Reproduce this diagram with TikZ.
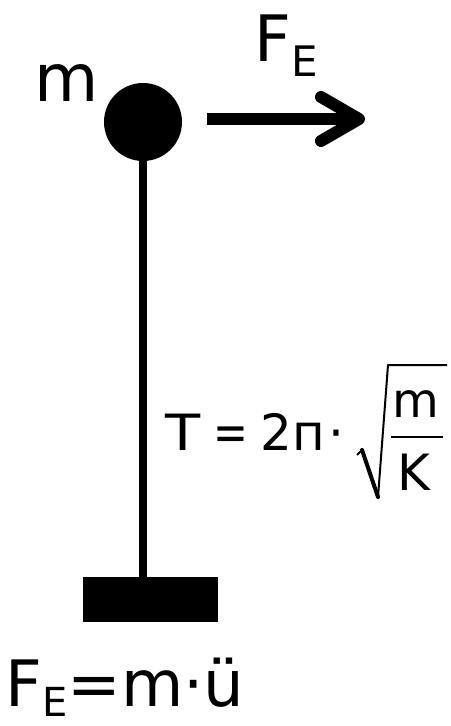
\documentclass[tikz,border=0pt]{standalone}
\usepackage{fontspec}
\setmainfont{DejaVu Sans}
\usetikzlibrary{arrows.meta}
\begin{document}
\begin{tikzpicture}[x=0.5pt,y=-0.5pt,
    lbl/.style={inner sep=0pt, anchor=base west},
    big/.style={font=\fontsize{32}{32}\selectfont},
    mid/.style={font=\fontsize{25}{25}\selectfont}]
  \useasboundingbox (0,0) rectangle (450,726);
  % Mass
  \node[circle, fill=black, minimum size=39pt, inner sep=0pt] (ball) at (143,122) {};
  \node[lbl, font=\fontsize{33}{33}\selectfont] (mlabel) at (34,102) {m};
  % Force
  \coordinate (fstart) at (207,119);
  \coordinate (ftip) at (365,119);
  \draw[line width=6pt, -{Straight Barb[round, length=19pt, width=22pt]}] (fstart) -- (ftip);
  \node[lbl, big] (flabel) at (254,62) {F\raisebox{-7.5pt}{\fontsize{21}{21}\selectfont E}};
  % Rod and base
  \node[rectangle, fill=black, minimum width=67.5pt, minimum height=22.5pt, inner sep=0pt] (base) at (150.5,599.5) {};
  \draw[line width=4pt] (ball.center) -- (ball.center |- base.north);
  % Period
  \node[lbl, mid, xscale=1.15] (tlabel) at (165,450) {T};
  \node[lbl, font=\fontsize{26}{26}\selectfont, xscale=0.8] (eqlabel) at (213,450) {=};
  \node[lbl, mid] (twopi) at (260,450) {2п};
  \node[anchor=base, inner sep=0pt, mid] (dotlabel) at (336,450) {·};
  \draw[line width=1pt, line join=round] (357,455) -- (362,450) -- (378,497) -- (388,365) -- (447,365);
  \draw[line width=2pt, line cap=round] (362,450) -- (378,497);
  \node[anchor=base, inner sep=0pt, font=\fontsize{24}{24}\selectfont] (fnum) at (416,417) {m};
  \node[anchor=base, inner sep=0pt, font=\fontsize{25}{25}\selectfont] (fden) at (414,490) {K};
  \draw[line width=1pt] (391,437) -- (443,437);
  % Newton
  \node[lbl, big] (newton) at (5,706) {F\raisebox{-5pt}{\fontsize{20}{20}\selectfont E}=m·ü};
\end{tikzpicture}
\end{document}
